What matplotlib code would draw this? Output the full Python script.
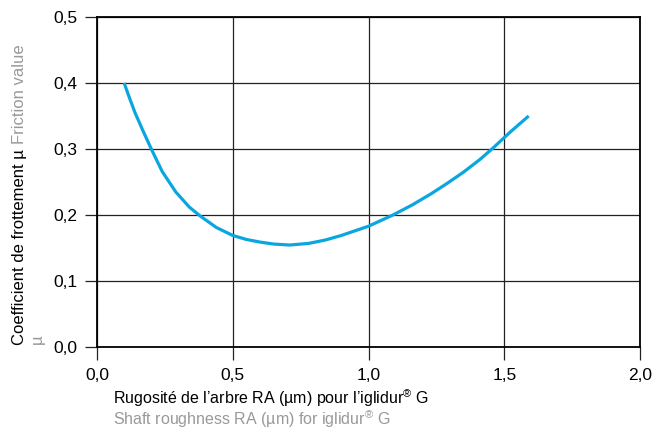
import matplotlib
matplotlib.use("Agg")
import matplotlib.pyplot as plt

plt.rcParams['font.family'] = ['Liberation Sans', 'DejaVu Sans']
plt.rcParams['mathtext.fontset'] = 'custom'
plt.rcParams['mathtext.rm'] = 'Liberation Sans'

# Reibwert über Wellenrauheit
ra = [0.10, 0.12, 0.14, 0.17, 0.20, 0.24, 0.29, 0.34, 0.38, 0.44, 0.50,
      0.55, 0.60, 0.65, 0.71, 0.78, 0.84, 0.90, 1.00, 1.09, 1.16, 1.23,
      1.29, 1.35, 1.41, 1.46, 1.52, 1.59]
mu = [0.400, 0.377, 0.355, 0.327, 0.300, 0.266, 0.235, 0.212, 0.1985,
      0.181, 0.169, 0.163, 0.159, 0.156, 0.1545, 0.157, 0.162, 0.169,
      0.183, 0.200, 0.215, 0.232, 0.248, 0.265, 0.284, 0.302, 0.325,
      0.350]

xticks = [0.0, 0.5, 1.0, 1.5, 2.0]
xlabels = ['0,0', '0,5', '1,0', '1,5', '2,0']
yticks = [0.0, 0.1, 0.2, 0.3, 0.4, 0.5]
ylabels = ['0,0', '0,1', '0,2', '0,3', '0,4', '0,5']

fig = plt.figure(figsize=(6.67, 4.30), dpi=100)
ax = fig.add_axes([97 / 667, 1 - 347 / 430, 543 / 667, 330 / 430])

ax.plot(ra, mu, color='#0aa6e0', lw=2.3, solid_capstyle='butt', zorder=3)

ax.set_xlim(0, 2.0)
ax.set_ylim(0, 0.5)
ax.set_xticks(xticks)
ax.set_xticklabels(xlabels)
ax.set_yticks(yticks)
ax.set_yticklabels(ylabels)
ax.grid(True, color='#222222', lw=0.9)
ax.set_axisbelow(True)
for s in ax.spines.values():
    s.set_linewidth(1.3)
    s.set_color('black')
ax.tick_params(axis='both', direction='out', length=9, width=0.9,
               labelsize=12.5, color='#222222')
ax.tick_params(axis='x', pad=6)
ax.tick_params(axis='y', pad=5)

# Achsentitel (zweisprachig, schwarz + grau)
fig.canvas.draw()
r = fig.canvas.get_renderer()
t1 = fig.text(20 / 667, 1 - 345 / 430, 'Coefficient de frottement µ ',
              rotation=90, ha='center', va='bottom', fontsize=12, color='black')
bb = t1.get_window_extent(r)
fig.text(20 / 667, bb.y1 / fig.bbox.height, 'Friction value',
         rotation=90, ha='center', va='bottom', fontsize=12, color='#999999')
fig.text(37 / 667, 1 - 344 / 430, 'µ', rotation=90, ha='center',
         va='bottom', fontsize=12, color='#999999')

fig.text(113 / 667, 1 - 398 / 430,
         "Rugosité de l’arbre RA (µm) pour l’iglidur$^{®}$ G",
         ha='left', va='center', fontsize=11.5, color='black')
fig.text(113 / 667, 1 - 419 / 430,
         "Shaft roughness RA (µm) for iglidur$^{®}$ G",
         ha='left', va='center', fontsize=11.5, color='#999999')

fig.savefig('out.png', dpi=100)
